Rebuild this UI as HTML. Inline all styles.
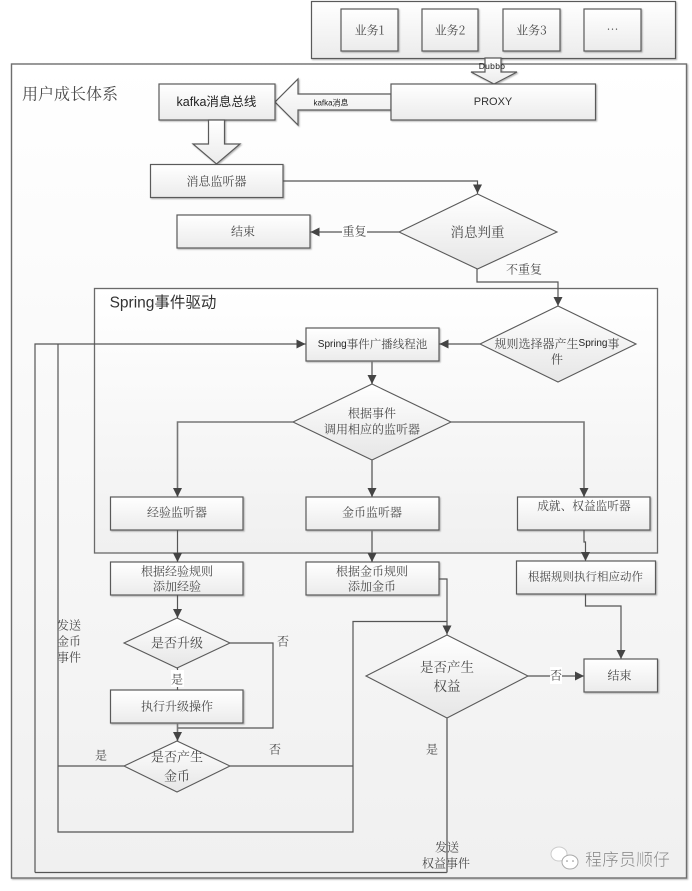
<!DOCTYPE html>
<html><head><meta charset="utf-8">
<style>
html,body{margin:0;padding:0;background:#fff;width:692px;height:891px;overflow:hidden}
svg{display:block}
text{font-family:"Noto Serif CJK SC","Liberation Serif",serif;fill:#4a4a4a;font-size:12px;text-anchor:middle;dominant-baseline:central}
.l{font-family:"Liberation Sans","Noto Sans CJK SC",sans-serif;fill:#222}
.box{fill:url(#g);stroke:#5a5a5a;stroke-width:1.2;filter:url(#s)}
.d{fill:url(#gd);stroke:#5a5a5a;stroke-width:1.1}
.c{fill:none;stroke:#555;stroke-width:1.2}
.t{fill:none;stroke:#777;stroke-width:1.6}
.w{fill:#fff}
</style></head><body>
<svg width="692" height="891" viewBox="0 0 692 891" xmlns="http://www.w3.org/2000/svg">
<defs>
<linearGradient id="g" x1="0" y1="0" x2="0" y2="1"><stop offset="0" stop-color="#fff"/><stop offset="1" stop-color="#ebebeb"/></linearGradient>
<linearGradient id="gd" x1="0" y1="0" x2="0" y2="1"><stop offset="0" stop-color="#fff"/><stop offset="1" stop-color="#e6e6e6"/></linearGradient>
<linearGradient id="g2" x1="0" y1="0" x2="0" y2="1"><stop offset="0" stop-color="#fff"/><stop offset="1" stop-color="#f0f0f0"/></linearGradient>
<filter id="s" x="-5%" y="-5%" width="112%" height="120%"><feDropShadow dx="1" dy="1" stdDeviation="0.7" flood-color="#000" flood-opacity=".3"/></filter>
<marker id="a" markerUnits="userSpaceOnUse" markerWidth="12" markerHeight="12" refX="9" refY="5" orient="auto"><path d="M0 0.500L9 5L0 9.500z" fill="#444"/></marker>
</defs>

<rect x="311.5" y="1.5" width="364" height="57" class="box"/>
<rect x="341" y="9" width="57" height="42" class="box"/><text x="369.500" y="30">业务1</text>
<rect x="422" y="9" width="56" height="42" class="box"/><text x="450" y="30">业务2</text>
<rect x="503" y="9" width="57" height="42" class="box"/><text x="531.500" y="30">业务3</text>
<rect x="584" y="9" width="57" height="42" class="box"/><text x="612.500" y="29">…</text>

<rect x="11.500" y="64" width="675" height="814" fill="url(#g2)" stroke="#6e6e6e" stroke-width="1.4" filter="url(#s)"/>
<text x="70" y="93" style="font-size:16px">用户成长体系</text>

<path d="M485 58H501V72H517L494 84L471 72H485Z" class="box"/>
<text x="492" y="66" class="l" style="font-size:8.500px;letter-spacing:.3px">Dubbo</text>

<path d="M391 94V110H298V125L275 102L298 79V94Z" class="box"/>
<text x="331" y="103" class="l" style="font-size:8px">kafka消息</text>
<rect x="391" y="84" width="204.500" height="36" class="box"/>
<text x="493" y="102" class="l" style="font-size:11px;fill:#333">PROXY</text>
<rect x="159" y="84" width="116" height="36" class="box"/>
<text x="216.500" y="102" class="l" style="font-size:12.500px">kafka消息总线</text>

<path d="M208.500 120H224.500V144H240L216.500 164L193 144H208.500Z" class="box"/>
<rect x="150.500" y="164.500" width="132.500" height="33" class="box"/><text x="216.500" y="181">消息监听器</text>
<rect x="177" y="215" width="133" height="33" class="box"/><text x="243" y="231">结束</text>

<path d="M283 181H477.500V193.500" class="c" marker-end="url(#a)"/>
<path d="M399 232H310.500" class="c" marker-end="url(#a)"/>
<rect x="342" y="223" width="25" height="16" fill="#fdfdfd"/><text x="354.500" y="231">重复</text>
<polygon points="399,232 477.500,194 557,232 477.500,269" class="d"/>
<text x="477.500" y="231" style="font-size:13.500px">消息判重</text>
<text x="524" y="269">不重复</text>

<rect x="94.500" y="288.500" width="563" height="264.500" fill="url(#g2)" stroke="#6a6a6a" stroke-width="1.300"/>
<text x="163" y="303" class="l" style="font-size:15.500px;fill:#333">Spring事件驱动</text>

<path d="M477 269V282H558V306" class="c" marker-end="url(#a)"/>
<path d="M35 872.500V344H305.500" class="c" marker-end="url(#a)"/>
<path d="M58 344V832H353V621.500H447" class="c"/>
<path d="M58 766H124" class="c"/>
<path d="M230 766H353" class="c"/>
<path d="M35 872.500H447" class="c"/>
<path d="M480 344H439.500" class="c" marker-end="url(#a)"/>

<rect x="306" y="328" width="133" height="33" class="box"/>
<text x="372.500" y="344" style="font-size:11.500px"><tspan class="l" style="font-size:10px">Spring</tspan>事件广播线程池</text>

<polygon points="480,344 558,306 636,344 558,382" class="d"/>
<text x="557" y="343"><tspan>规则选择器产生</tspan><tspan class="l" style="font-size:10px">Spring</tspan><tspan>事</tspan></text>
<text x="557" y="359">件</text>

<path d="M372 361V384" class="t" marker-end="url(#a)"/>
<polygon points="293,422 372,384 451,422 372,460" class="d"/>
<text x="372" y="413">根据事件</text>
<text x="372" y="429">调用相应的监听器</text>

<path d="M293 422H177.500V497" class="t" marker-end="url(#a)"/>
<path d="M372 460V497" class="t" marker-end="url(#a)"/>
<path d="M451 422H584V497" class="t" marker-end="url(#a)"/>

<rect x="110.500" y="497" width="132.500" height="33" class="box"/><text x="177" y="512">经验监听器</text>
<rect x="306" y="497" width="133" height="33" class="box"/><text x="372" y="512">金币监听器</text>
<rect x="517.500" y="497" width="132.500" height="33" class="box"/><text x="584" y="506" style="font-size:11.700px">成就、权益监听器</text>

<path d="M177.500 530V562" class="c" marker-end="url(#a)"/>
<path d="M372 530V562" class="t" marker-end="url(#a)"/>
<path d="M584 530V542H585.500V561" class="c" marker-end="url(#a)"/>

<rect x="110.500" y="562" width="132.500" height="33" class="box"/><text x="177" y="571">根据经验规则</text><text x="177" y="586">添加经验</text>
<rect x="306" y="562" width="133" height="33" class="box"/><text x="372" y="571">根据金币规则</text><text x="372" y="586">添加金币</text>
<rect x="516.500" y="561" width="139" height="33" class="box"/><text x="585.500" y="576.500" style="font-size:11.500px">根据规则执行相应动作</text>

<path d="M439 579H447V634.500" class="c" marker-end="url(#a)"/>
<path d="M585.500 594V606H621V659" class="c" marker-end="url(#a)"/>

<polygon points="366,676 447,635 528,676 447,718" class="d"/>
<text x="447" y="666" style="font-size:13.500px">是否产生</text><text x="447" y="685" style="font-size:13.500px">权益</text>
<path d="M528 676H584" class="c" marker-end="url(#a)"/>
<rect x="550" y="667" width="12" height="17" class="w"/><text x="556" y="675">否</text>
<rect x="584" y="659" width="73.500" height="33" class="box"/><text x="619.500" y="675">结束</text>
<path d="M447 718V872.500" class="t"/>
<text x="432" y="749">是</text>
<text x="447" y="847">发送</text><text x="446" y="863">权益事件</text>

<path d="M177.500 595V618" class="c" marker-end="url(#a)"/>
<polygon points="124,643 177,618 230,643 177,668" class="d"/>
<text x="177" y="642" style="font-size:13px">是否升级</text>
<path d="M230 643H273V728H177.500" class="c"/>
<text x="283" y="641">否</text>
<path d="M177.500 668V690" class="c"/>
<rect x="171" y="670" width="13" height="17" class="w"/><text x="177" y="679">是</text>
<rect x="110.500" y="690" width="132.500" height="33" class="box"/><text x="177" y="706">执行升级操作</text>
<path d="M177.500 723V741" class="t" marker-end="url(#a)"/>
<polygon points="124,766 177,741 230,766 177,792" class="d"/>
<text x="177" y="756" style="font-size:13px">是否产生</text><text x="177" y="775" style="font-size:13px">金币</text>
<text x="101" y="755">是</text>
<text x="275" y="749">否</text>
<text x="69" y="625">发送</text><text x="69" y="641">金币</text><text x="69" y="657">事件</text>

<ellipse cx="559" cy="854" rx="8" ry="7" fill="#fff" stroke="#ccc"/>
<ellipse cx="570" cy="862" rx="8" ry="7" fill="#fff" stroke="#aaa"/>
<circle cx="567" cy="861" r=".8" fill="#888"/><circle cx="573" cy="861" r=".8" fill="#888"/>
<text x="627.500" y="858" style="font-family:'Noto Sans CJK SC',sans-serif;font-size:17px;fill:#8a8a8a;stroke:#fff;stroke-width:.3px">程序员顺仔</text>
</svg>
</body></html>
